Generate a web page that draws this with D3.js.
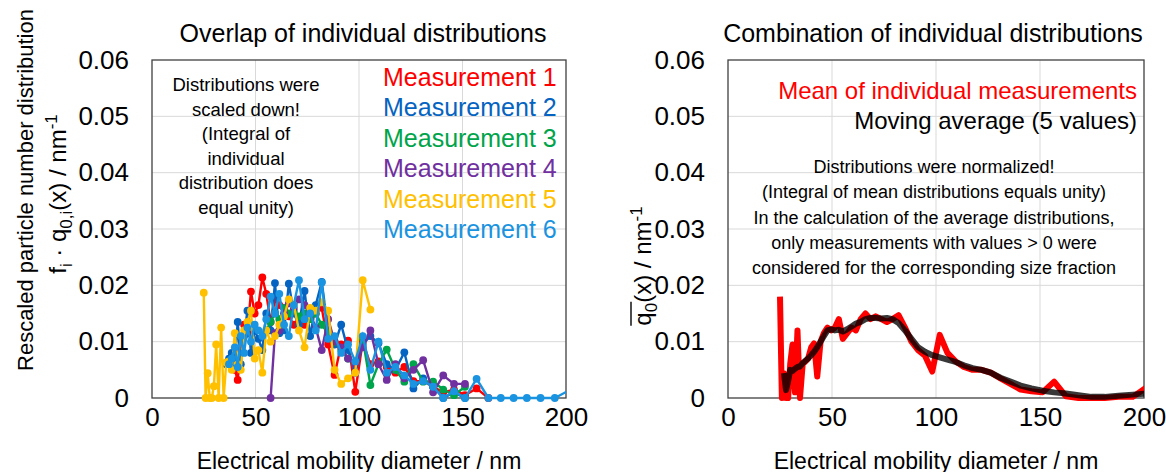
<!doctype html>
<html lang="en">
<head>
<meta charset="utf-8">
<title>Particle size distributions</title>
<script src="https://cdn.jsdelivr.net/npm/d3@7"></script>
<style>
  body { margin: 0; background: #fff; }
  svg text { font-family: "Liberation Sans", Arial, sans-serif; fill: #000; }
  .grid line { stroke: #d9d9d9; stroke-width: 1; }
</style>
</head>
<body>
<div id="chart"></div>
<script>
// size channels (electrical mobility diameter, nm)
var diameters = [25.0, 25.9, 26.9, 27.9, 28.9, 29.9, 31.0, 32.2, 33.4, 34.6,
  35.9, 37.2, 38.5, 40.0, 41.4, 42.9, 44.5, 46.1, 47.8, 49.6,
  51.4, 53.3, 55.2, 57.3, 59.4, 61.5, 63.8, 66.1, 68.5, 71.0,
  73.7, 76.4, 79.1, 82.0, 85.1, 88.2, 91.4, 94.7, 98.2, 101.8,
  105.5, 109.4, 113.4, 117.6, 121.9, 126.3, 131.0, 135.8, 140.7, 145.9,
  151.2, 156.8, 162.5, 168.5, 174.7, 181.1, 187.7, 194.6, 201.7];

var N = null;
// left panel: rescaled individual measurements, one value per channel
var meas1 = [N, N, N, N, N, N, N, N, N, N,
  N, N, N, 0.0050, 0.0032, 0.0085, 0.0130, 0.0115, 0.0189, 0.0150,
  0.0165, 0.0214, 0.0185, 0.0135, 0.0175, 0.0165, 0.0160, 0.0145, 0.0130, 0.0135,
  0.0130, 0.0140, 0.0150, 0.0160, 0.0095, 0.0041, 0.0095, 0.0102, 0.0011, 0.0100,
  0.0060, 0.0065, 0.0055, 0.0045, 0.0055, 0.0030, 0.0030, 0.0020, 0.0010, 0.0015,
  0.0005, 0.0017, 0, N, N, N, N, N, N];
var meas2 = [N, N, N, N, N, N, N, N, N, N,
  0.0060, 0.0070, 0.0080, 0.0060, 0.0135, 0.0060, 0.0110, 0.0155, 0.0080, 0.0120,
  0.0105, 0.0085, 0.0150, 0.0120, 0.0204, 0.0115, 0.0120, 0.0203, 0.0150, 0.0130,
  0.0190, 0.0110, 0.0165, 0.0206, 0.0120, 0.0095, 0.0130, 0.0085, 0.0045, 0.0095,
  0.0110, 0.0097, 0.0060, 0.0050, 0.0081, 0.0017, 0.0035, 0.0020, 0, 0.0010,
  0, N, N, N, N, N, N, N, N];
var meas3 = [N, N, N, N, N, N, N, N, N, N,
  N, N, N, N, N, N, N, N, N, N,
  N, N, 0.0120, 0.0135, 0.0150, 0.0140, 0.0160, 0.0150, 0.0155, 0.0145,
  0.0150, 0.0140, 0.0150, 0.0130, 0.0115, 0.0100, 0.0085, 0.0070, 0.0060, 0.0106,
  0.0023, 0.0060, 0.0086, 0.0050, 0.0029, 0.0060, 0.0029, 0.0029, 0.0015, 0.0005,
  0.0020, N, N, N, N, N, N, N, N];
var meas4 = [N, N, N, N, N, N, N, N, N, N,
  N, N, N, N, N, N, N, N, N, N,
  N, N, N, 0, 0.0115, 0.0120, 0.0150, 0.0168, 0.0160, 0.0175,
  0.0165, 0.0150, 0.0125, 0.0085, 0.0140, 0.0100, 0.0090, 0.0070, 0.0060, 0.0090,
  0.0120, 0.0060, 0.0032, 0.0060, 0.0035, 0.0050, 0.0067, 0.0010, 0.0040, 0.0025,
  0.0025, N, N, N, N, N, N, N, N];
var meas5 = [0.0187, 0, 0.0044, 0, 0, 0.0021, 0.0095, 0, 0.0125, 0,
  0.0063, 0.0065, 0.0050, 0.0115, 0.0060, 0.0050, 0.0120, 0.0135, 0.0155, 0.0070,
  0.0085, 0.0045, 0.0120, 0.0100, 0.0110, 0.0130, 0.0145, 0.0175, 0.0165, 0.0120,
  0.0090, 0.0160, 0.0155, 0.0170, 0.0155, 0.0050, 0.0025, 0.0035, 0.0045, 0.0209,
  0.0157, N, N, N, N, N, N, N, N, N,
  N, N, N, N, N, N, N, N, N];
var meas6 = [N, N, N, N, N, N, N, N, N, N,
  N, 0.0060, 0.0070, 0.0090, 0.0055, 0.0110, 0.0080, 0.0125, 0.0100, 0.0130,
  0.0120, 0.0110, 0.0140, 0.0180, 0.0150, 0.0185, 0.0130, 0.0110, 0.0165, 0.0209,
  0.0140, 0.0150, 0.0120, 0.0205, 0.0105, 0.0110, 0.0080, 0.0095, 0.0065, 0.0110,
  0.0050, 0.0100, 0.0045, 0.0055, 0.0040, 0.0025, 0.0030, 0.0020, 0, 0.0012,
  0, 0.0034, 0, 0, 0, 0, 0, 0, 0.0014];

// right panel: mean and moving average
var meanValues = [0.0180, 0, 0.0044, 0, 0, 0.0060, 0.0095, 0.0010, 0.0120, 0,
  0.0060, 0.0065, 0.0070, 0.0090, 0.0097, 0.0038, 0.0100, 0.0115, 0.0125, 0.0120,
  0.0125, 0.0140, 0.0105, 0.0115, 0.0125, 0.0120, 0.0140, 0.0150, 0.0140, 0.0145,
  0.0140, 0.0135, 0.0140, 0.0147, 0.0125, 0.0100, 0.0085, 0.0075, 0.0047, 0.0112,
  0.0080, 0.0065, 0.0055, 0.0050, 0.0050, 0.0045, 0.0035, 0.0025, 0.0015, 0.0012,
  0.0010, 0.0029, 0.0003, 0, 0, 0, 0.0002, 0.0002, 0.0020];
var movingAvg = [N, N, 0.0044, 0.0014, 0.0030, 0.0050, 0.0048, 0.0052, 0.0055, 0.0056,
  0.0062, 0.0066, 0.0070, 0.0076, 0.0082, 0.0090, 0.0100, 0.0110, 0.0120, 0.0122,
  0.0120, 0.0121, 0.0118, 0.0122, 0.0127, 0.0132, 0.0135, 0.0140, 0.0142, 0.0142,
  0.0141, 0.0142, 0.0140, 0.0133, 0.0120, 0.0105, 0.0090, 0.0082, 0.0076, 0.0072,
  0.0068, 0.0064, 0.0058, 0.0053, 0.0050, 0.0045, 0.0036, 0.0029, 0.0022, 0.0017,
  0.0013, 0.0010, 0.0008, 0.0005, 0.0002, 0.0002, 0.0004, 0.0006, 0.0008];

var seriesNames = ['Measurement 1', 'Measurement 2', 'Measurement 3',
  'Measurement 4', 'Measurement 5', 'Measurement 6'];
var seriesColors = ['#ff0000', '#0563c1', '#00a44a', '#7030a0', '#ffc000', '#1a93e0'];
var seriesValues = [meas1, meas2, meas3, meas4, meas5, meas6];

var xTicks = [0, 50, 100, 150, 200];
var yTicks = [0, 0.01, 0.02, 0.03, 0.04, 0.05, 0.06];

var svg = d3.select('#chart').append('svg')
  .attr('width', 1166).attr('height', 472);

function toPoints(vals) {
  return vals.map(function(v, i) { return {d: diameters[i], v: v}; });
}

// one panel: grid, frame, ticks; returns scales
function panel(left, right, id) {
  var x = d3.scaleLinear().domain([0, 200]).range([left, right]);
  var y = d3.scaleLinear().domain([0, 0.06]).range([398, 60]);

  var grid = svg.append('g').attr('class', 'grid');
  grid.selectAll('.gx').data(xTicks.slice(1, -1)).enter().append('line')
    .attr('x1', x).attr('x2', x).attr('y1', y(0)).attr('y2', y(0.06));
  grid.selectAll('.gy').data(yTicks.slice(1, -1)).enter().append('line')
    .attr('x1', x(0)).attr('x2', x(200)).attr('y1', y).attr('y2', y);

  svg.append('rect')
    .attr('x', x(0)).attr('y', y(0.06))
    .attr('width', x(200) - x(0)).attr('height', y(0) - y(0.06))
    .attr('fill', 'none').attr('stroke', '#404040').attr('stroke-width', 1.3);

  var yAxis = svg.append('g')
    .attr('transform', 'translate(' + x(0) + ',0)')
    .call(d3.axisLeft(y).tickValues(yTicks).tickSize(0).tickPadding(23)
      .tickFormat(function(d) { return d === 0 ? '0' : d3.format('.2f')(d); }));
  var xAxis = svg.append('g')
    .attr('transform', 'translate(0,' + y(0) + ')')
    .call(d3.axisBottom(x).tickValues(xTicks).tickSize(0).tickPadding(10));
  [xAxis, yAxis].forEach(function(a) {
    a.select('.domain').remove();
    a.selectAll('text').style('font-size', '26px')
      .style('font-family', '"Liberation Sans", Arial, sans-serif');
  });

  svg.append('clipPath').attr('id', id).append('rect')
    .attr('x', x(0)).attr('y', y(0.06) - 10)
    .attr('width', x(200) - x(0)).attr('height', y(0) - y(0.06) + 20);

  svg.append('text')
    .attr('x', (x(0) + x(200)) / 2).attr('y', 469)
    .attr('text-anchor', 'middle').style('font-size', '23px')
    .text('Electrical mobility diameter / nm');

  return {x: x, y: y};
}

// ---- left panel
var L = panel(152, 566, 'clipL');
var lineL = d3.line()
  .defined(function(p) { return p.v !== null; })
  .x(function(p) { return L.x(p.d); })
  .y(function(p) { return L.y(p.v); });

var dataL = svg.append('g').attr('clip-path', 'url(#clipL)');
seriesValues.forEach(function(vals, k) {
  var pts = toPoints(vals);
  dataL.append('path').datum(pts)
    .attr('d', lineL).attr('fill', 'none')
    .attr('stroke', seriesColors[k]).attr('stroke-width', 2.4);
  dataL.selectAll('.m' + k)
    .data(pts.filter(function(p) { return p.v !== null && p.d <= 200; }))
    .enter().append('circle')
    .attr('cx', function(p) { return L.x(p.d); })
    .attr('cy', function(p) { return L.y(p.v); })
    .attr('r', 3.9).attr('fill', seriesColors[k]);
});

svg.append('text').attr('x', 363).attr('y', 42)
  .attr('text-anchor', 'middle').style('font-size', '25px')
  .text('Overlap of individual distributions');

svg.append('g').selectAll('text').data(seriesNames).enter().append('text')
  .attr('x', 383).attr('y', function(d, i) { return 86 + i * 30.4; })
  .style('font-size', '25px')
  .style('fill', function(d, i) { return seriesColors[i]; })
  .text(function(d) { return d; });

var noteL = ['Distributions were', 'scaled down!', '(Integral of',
  'individual', 'distribution does', 'equal unity)'];
svg.append('g').selectAll('text').data(noteL).enter().append('text')
  .attr('x', 246).attr('y', function(d, i) { return 91 + i * 24.6; })
  .attr('text-anchor', 'middle').style('font-size', '18.5px')
  .text(function(d) { return d; });

svg.append('text')
  .attr('transform', 'translate(33,190) rotate(-90)')
  .attr('text-anchor', 'middle').style('font-size', '22px')
  .text('Rescaled particle number distribution');

var yl = svg.append('text')
  .attr('transform', 'translate(66,194) rotate(-90)')
  .attr('text-anchor', 'middle').style('font-size', '24px');
yl.append('tspan').text('f');
yl.append('tspan').attr('dy', 6).style('font-size', '17px').text('i');
yl.append('tspan').attr('dy', -6).text(' \u00b7 q');
yl.append('tspan').attr('dy', 6).style('font-size', '17px').text('0,i');
yl.append('tspan').attr('dy', -6).text('(x) / nm');
yl.append('tspan').attr('dy', -9).style('font-size', '17px').text('-1');

// ---- right panel
var R = panel(728, 1144, 'clipR');
var lineR = d3.line()
  .defined(function(p) { return p.v !== null; })
  .x(function(p) { return R.x(p.d); })
  .y(function(p) { return R.y(p.v); });

var dataR = svg.append('g').attr('clip-path', 'url(#clipR)');
dataR.append('path').datum(toPoints(meanValues))
  .attr('d', lineR).attr('fill', 'none')
  .attr('stroke', '#ff0000').attr('stroke-width', 6)
  .attr('stroke-linejoin', 'round');
dataR.append('path').datum(toPoints(movingAvg))
  .attr('d', lineR).attr('fill', 'none')
  .attr('stroke', '#000').attr('stroke-opacity', 0.78).attr('stroke-width', 6)
  .attr('stroke-linejoin', 'round');

svg.append('text').attr('x', 933).attr('y', 42)
  .attr('text-anchor', 'middle').style('font-size', '25px')
  .text('Combination of individual distributions');

svg.append('text').attr('x', 1137).attr('y', 99)
  .attr('text-anchor', 'end').style('font-size', '24px').style('fill', '#ff0000')
  .text('Mean of individual measurements');
svg.append('text').attr('x', 1137).attr('y', 129)
  .attr('text-anchor', 'end').style('font-size', '24px')
  .text('Moving average (5 values)');

var noteR = ['Distributions were normalized!',
  '(Integral of mean distributions equals unity)',
  'In the calculation of the average distributions,',
  'only measurements with values > 0 were',
  'considered for the corresponding size fraction'];
svg.append('g').selectAll('text').data(noteR).enter().append('text')
  .attr('x', 934).attr('y', function(d, i) { return 173 + i * 25 + (i > 1 ? 1 : 0); })
  .attr('text-anchor', 'middle').style('font-size', '18px')
  .text(function(d) { return d; });

// y label with one overline spanning q and its subscript
var yrG = svg.append('g').attr('transform', 'translate(651,266) rotate(-90)');
var yr = yrG.append('text')
  .attr('text-anchor', 'middle').style('font-size', '24px');
var tq = yr.append('tspan').text('q');
var t0 = yr.append('tspan').attr('dy', 6).style('font-size', '17px').text('0');
yr.append('tspan').attr('dy', -6).text('(x) / nm');
yr.append('tspan').attr('dy', -9).style('font-size', '17px').text('-1');
var startX = -yr.node().getComputedTextLength() / 2;
var barLen = tq.node().getComputedTextLength() + t0.node().getComputedTextLength();
yrG.append('line')
  .attr('x1', startX).attr('x2', startX + barLen + 1)
  .attr('y1', -20).attr('y2', -20)
  .attr('stroke', '#000').attr('stroke-width', 1.4);
</script>
</body>
</html>
